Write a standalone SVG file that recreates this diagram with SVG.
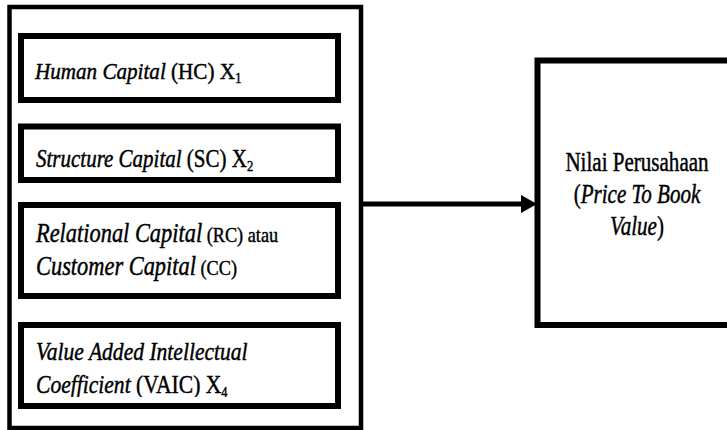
<svg xmlns="http://www.w3.org/2000/svg" width="727" height="430" viewBox="0 0 727 430">
<style>
.box{fill:#fff;stroke:#000;stroke-width:6}
.outer{fill:#fff;stroke:#000;stroke-width:4.5}
text{font-family:"Liberation Serif","Times New Roman",serif;fill:#000;stroke:#000;stroke-width:0.45}
.it{font-style:italic}
.sub{font-size:15px}
</style>
<defs>
<clipPath id="clip4"><rect x="0" y="300" width="727" height="97"/></clipPath>
</defs>
<rect width="727" height="430" fill="#fff"/>
<g id="outer"><rect class="outer" x="9.5" y="7" width="351.5" height="421"/></g>
<g id="hc">
<rect class="box" x="21" y="36" width="317" height="64"/>
<g transform="translate(35,79) scale(0.88,1)"><text x="0" y="0" font-size="24"><tspan class="it">Human Capital</tspan> (HC) X<tspan class="sub" dy="4">1</tspan></text></g>
</g>
<g id="sc">
<rect class="box" x="21" y="126.5" width="317" height="53.5"/>
<g transform="translate(36,167) scale(0.84,1)"><text x="0" y="0" font-size="25"><tspan class="it">Structure Capital</tspan> (SC) X<tspan class="sub" dy="4">2</tspan></text></g>
</g>
<g id="rc">
<rect class="box" x="21" y="205" width="317" height="91"/>
<g transform="translate(36,242) scale(0.83,1)"><text x="0" y="0" font-size="27"><tspan class="it">Relational Capital</tspan><tspan font-size="22"> (RC) atau</tspan></text></g>
<g transform="translate(36,275) scale(0.83,1)"><text x="0" y="0" font-size="27"><tspan class="it">Customer Capital</tspan><tspan font-size="22"> (CC)</tspan></text></g>
</g>
<g id="vaic">
<rect class="box" x="21" y="325" width="317" height="81"/>
<g clip-path="url(#clip4)">
<g transform="translate(36,360) scale(0.83,1)"><text x="0" y="0" font-size="26" class="it">Value Added Intellectual</text></g>
<g transform="translate(36,393) scale(0.83,1)"><text x="0" y="0" font-size="26"><tspan class="it">Coefficient</tspan> (VAIC) X<tspan class="sub" dy="4">4</tspan></text></g>
</g>
</g>
<g id="connectors">
<line x1="361" y1="204" x2="524" y2="204" stroke="#000" stroke-width="5"/>
<polygon points="521,195 537,204 521,213" fill="#000"/>
</g>
<g id="pbv">
<rect class="box" x="537.5" y="60.5" width="200" height="264.5"/>
<g transform="translate(637,171) scale(0.78,1)"><text x="0" y="0" font-size="27" text-anchor="middle">Nilai Perusahaan</text></g>
<g transform="translate(637,203) scale(0.78,1)"><text x="0" y="0" font-size="27" text-anchor="middle">(<tspan class="it">Price To Book</tspan></text></g>
<g transform="translate(637,235) scale(0.78,1)"><text x="0" y="0" font-size="27" text-anchor="middle"><tspan class="it">Value</tspan>)</text></g>
</g>
</svg>
